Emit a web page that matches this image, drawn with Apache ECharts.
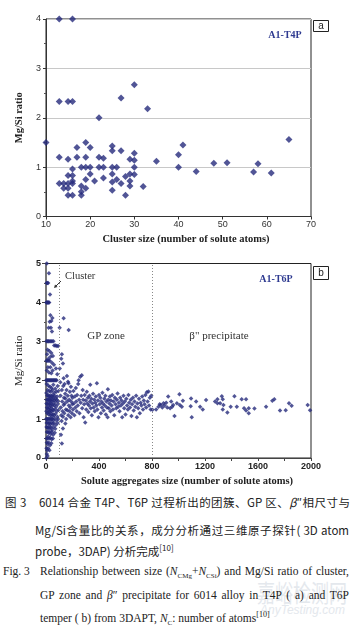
<!DOCTYPE html>
<html>
<head>
<meta charset="utf-8">
<script src="https://cdn.jsdelivr.net/npm/echarts@6/dist/echarts.min.js"></script>
<style>
  body { margin: 0; background: #fff; }
  #wrap { position: relative; width: 352px; height: 630px; overflow: hidden; background: #fff; }
  #chart { position: absolute; left: 0; top: 0; width: 352px; height: 492px; }
  .cap { position: absolute; white-space: nowrap; color: #222; line-height: 14px; }
  .cn { font-family: "Noto Sans CJK SC", sans-serif; font-size: 11.5px; }
  .en { font-family: "Liberation Serif", "Times New Roman", serif; font-size: 11.5px; }
  .just { text-align: justify; text-align-last: justify; }
  .wm { position: absolute; color: #e4e8ed; font-family: "Noto Sans CJK SC", sans-serif; }
</style>
</head>
<body>
<div id="wrap">
  <div class="wm" style="left:257px; top:574px; font-size:18px; letter-spacing:0px; transform:scaleY(1.35); transform-origin:0 0;">嘉峪检测网</div>
  <div class="wm" style="left:260px; top:603px; font-size:12px; font-style:italic; font-family:'Liberation Sans',sans-serif;">AnyTesting.com</div>

  <div id="chart"></div>

  <div class="cap cn just" style="left:5px; top:495px; width:345px;">图 3　6014 合金 T4P、T6P 过程析出的团簇、GP 区、<i>β</i>″相尺寸与</div>
  <div class="cap cn just" style="left:35px; top:523px; width:314px;">Mg/Si含量比的关系，成分分析通过三维原子探针( 3D atom</div>
  <div class="cap cn" style="left:35px; top:541px;">probe，3DAP) 分析完成<sup style="font-size:8px;">[10]</sup></div>

  <div class="cap en" style="left:3px; top:564px;">Fig. 3</div>
  <div class="cap en just" style="left:40px; top:564px; width:309px;">Relationship between size (<i>N</i><sub style="font-size:7px;">CMg</sub>+<i>N</i><sub style="font-size:7px;">CSi</sub>) and Mg/Si ratio of cluster,</div>
  <div class="cap en just" style="left:40px; top:588px; width:309px;">GP zone and <i>β</i>″ precipitate for 6014 alloy in T4P ( a) and T6P</div>
  <div class="cap en" style="left:40px; top:608px;">temper ( b) from 3DAPT, <i>N</i><sub style="font-size:7px;">C</sub>: number of atoms<sup style="font-size:8px;">[10]</sup></div>
</div>

<script>
// (a) A1-T4P : cluster size vs Mg/Si ratio
const t4pPoints = [
  [10, 1.5], [13, 4], [16, 4], [13, 2.33], [15, 2.33], [16, 2.33], [22, 2.0], [27, 2.4], [30, 2.67], [33, 2.18],
  [13, 1.2], [13, 0.67], [14, 0.67], [14, 0.57], [15, 1.16], [15, 0.83], [15, 0.67], [15, 0.57], [15, 0.43],
  [16, 0.96], [16, 0.83], [16, 0.72], [16, 0.67], [16, 0.43], [17, 1.4], [17, 1.2], [18, 1.0], [18, 0.62],
  [18, 0.5], [18, 0.43], [19, 1.5], [19, 1.2], [19, 1.0], [19, 0.75], [19, 0.57], [20, 1.4], [20, 1.0],
  [20, 0.86], [21, 0.72], [22, 1.2], [22, 1.0], [23, 1.18], [23, 1.0], [23, 0.78], [25, 1.43], [25, 1.33],
  [25, 1.0], [25, 0.86], [25, 0.7], [25, 0.53], [26, 1.0], [26, 0.75], [27, 1.33], [27, 0.67], [28, 0.81],
  [28, 0.43], [29, 1.16], [29, 0.86], [29, 0.72], [29, 0.62], [30, 1.28], [30, 1.14], [30, 1.0], [30, 0.85],
  [32, 0.61], [35, 1.12], [40, 1.25], [40, 1.0], [41, 1.45], [44, 0.91], [48, 1.08], [51, 1.09], [57, 0.9],
  [58, 1.07], [61, 0.88], [65, 1.56]
];

// (b) A1-T6P : solute aggregate size vs Mg/Si ratio
const t6pCluster = [
  [6, 5.0], [22, 4.75], [5, 4.5], [10, 4.5], [16, 4.5], [30, 4.2],
  [3, 4], [7, 4], [11, 4], [15, 4], [19, 4], [24, 4],
  [33, 3.67], [40, 3.52], [48, 3.6], [37, 3.35], [20, 3.35], [45, 3.25], [28, 3.5],
  [4, 3], [10, 3], [16, 3], [22, 3], [30, 3], [38, 3], [46, 3], [56, 3],
  [62, 2.89], [72, 2.89], [82, 2.88], [92, 2.88],
  [12, 2.78], [25, 2.75], [40, 2.7], [8, 2.67], [34, 2.6], [18, 2.55], [52, 2.62],
  [4, 2.5], [10, 2.5], [20, 2.5], [28, 2.5], [45, 2.45], [60, 2.4], [14, 2.33], [33, 2.33], [75, 2.3],
  [50, 2.25], [6, 2.25], [22, 2.2], [40, 2.18], [85, 2.15],
  [2, 2], [8, 2], [14, 2], [20, 2], [26, 2], [32, 2], [38, 2], [44, 2], [50, 2], [56, 2], [62, 2], [68, 2], [74, 2], [80, 2],
  [5, 1.9], [18, 1.86], [30, 1.83], [42, 1.8], [55, 1.88], [70, 1.78], [88, 1.85], [12, 1.75], [24, 1.72],
  [36, 1.7], [48, 1.75], [62, 1.68], [78, 1.7], [95, 1.72],
  [3, 1.67], [9, 1.6], [15, 1.62], [21, 1.58], [27, 1.6], [33, 1.55], [39, 1.6], [46, 1.57], [52, 1.62],
  [58, 1.55], [66, 1.6], [74, 1.52], [84, 1.58],
  [6, 1.5], [12, 1.5], [18, 1.5], [24, 1.5], [30, 1.47], [36, 1.5], [44, 1.45], [50, 1.5], [60, 1.48],
  [70, 1.44], [80, 1.5], [92, 1.46],
  [4, 1.4], [10, 1.38], [16, 1.42], [22, 1.36], [28, 1.4], [34, 1.35], [40, 1.4], [47, 1.33], [54, 1.38],
  [64, 1.36], [76, 1.32], [88, 1.38],
  [7, 1.3], [13, 1.28], [19, 1.25], [25, 1.3], [31, 1.22], [37, 1.27], [43, 1.2], [50, 1.25], [57, 1.22],
  [68, 1.26], [82, 1.2], [96, 1.24],
  [3, 1.2], [9, 1.15], [15, 1.17], [21, 1.12], [27, 1.18], [33, 1.1], [40, 1.14], [46, 1.08], [53, 1.12],
  [62, 1.1], [72, 1.14], [86, 1.06],
  [2, 1], [6, 1], [11, 1], [17, 1], [23, 1], [29, 1], [35, 1], [41, 1], [48, 1], [55, 0.98], [64, 1.02],
  [78, 0.97], [92, 1],
  [5, 0.9], [12, 0.92], [19, 0.88], [26, 0.9], [33, 0.86], [40, 0.92], [50, 0.88], [60, 0.9], [74, 0.85], [88, 0.9],
  [4, 0.8], [10, 0.78], [16, 0.8], [22, 0.75], [30, 0.8], [38, 0.77], [46, 0.72], [56, 0.8], [70, 0.75],
  [7, 0.67], [14, 0.67], [20, 0.65], [28, 0.67], [36, 0.62], [44, 0.67], [54, 0.6], [66, 0.65],
  [5, 0.5], [10, 0.5], [16, 0.55], [24, 0.5], [32, 0.52], [42, 0.48], [52, 0.5],
  [6, 0.4], [12, 0.36], [20, 0.4], [30, 0.33], [40, 0.38],
  [4, 0.25], [9, 0.2], [16, 0.25], [26, 0.2], [6, 0.1], [12, 0.05], [3, 0.0]
];

const t6pGpZone = [
  [103, 3.35], [133, 3.59], [171, 3.29], [120, 2.67], [115, 2.55], [128, 2.43], [120, 0.37],
  [104, 2.3], [108, 1.95], [110, 1.6], [112, 1.3], [115, 1.1], [118, 0.95], [113, 0.6], [120, 1.75],
  [122, 1.45], [125, 1.2], [128, 1.06], [128, 0.76], [130, 1.85], [133, 2.05], [133, 1.36], [136, 1.55],
  [138, 1.15], [140, 1.9], [142, 1.4], [145, 1.65], [146, 0.89], [146, 1.53], [150, 1.25], [152, 1.0],
  [155, 1.75], [158, 2.11], [160, 1.45], [161, 1.23], [164, 1.6], [166, 1.96], [168, 1.1], [170, 1.92],
  [172, 1.35], [175, 1.5], [178, 1.2], [180, 1.7], [183, 1.3], [186, 1.05], [188, 1.83], [190, 1.45],
  [193, 1.6], [196, 1.15], [198, 1.38], [200, 1.55],
  [204, 1.25], [207, 1.72], [210, 1.4], [214, 1.1], [218, 1.58], [222, 1.3], [225, 1.8], [228, 1.45],
  [232, 1.2], [235, 1.62], [240, 1.35], [243, 1.9], [246, 2.0], [250, 1.5], [253, 1.15], [258, 2.09],
  [262, 1.42], [266, 1.6], [270, 2.13], [273, 1.28], [277, 1.75], [280, 1.5], [284, 1.05], [288, 1.38],
  [292, 1.62], [296, 0.91], [300, 1.48], [304, 1.25], [308, 1.7], [312, 1.4], [316, 1.55], [320, 1.18],
  [324, 1.35], [328, 1.6], [332, 1.45], [334, 1.88], [338, 1.28], [342, 1.52], [346, 1.1], [350, 1.4],
  [355, 1.65], [360, 1.3], [364, 1.5], [368, 1.2], [372, 1.42], [376, 1.58], [380, 1.35], [384, 1.92],
  [388, 1.25], [392, 1.48], [396, 1.05], [400, 1.62], [405, 1.38], [410, 1.55], [414, 1.15], [418, 1.45],
  [422, 1.3], [426, 1.68], [430, 1.4], [435, 1.22], [440, 1.52], [444, 1.35], [448, 1.6], [452, 1.12],
  [456, 1.45], [460, 1.3], [465, 1.05], [467, 1.77], [470, 1.5], [474, 1.28], [478, 1.4], [482, 1.58],
  [486, 1.2], [490, 1.48], [495, 1.35], [500, 1.62], [505, 1.25], [510, 1.45], [515, 1.1], [520, 1.55],
  [525, 1.38], [530, 1.28], [535, 1.5], [540, 1.66], [545, 1.32], [550, 1.42],
  [555, 1.2], [560, 1.55], [565, 1.35], [570, 1.48], [575, 1.05], [580, 1.4], [585, 1.6], [590, 1.28],
  [595, 1.45], [600, 1.12], [606, 1.52], [612, 1.35], [618, 1.25], [622, 1.62], [628, 1.42], [634, 1.3],
  [640, 1.5], [645, 1.08], [650, 1.38], [656, 1.55], [662, 1.22], [668, 1.45], [674, 1.32], [680, 1.6],
  [686, 1.05], [690, 1.4], [696, 1.28], [702, 1.52], [708, 1.15], [714, 1.42], [720, 1.35], [726, 1.58],
  [732, 1.25], [738, 1.48], [744, 1.38], [750, 1.62], [756, 1.3], [761, 1.69], [767, 1.45], [773, 1.71],
  [778, 1.35], [784, 1.55], [790, 1.25], [795, 1.6]
];

const t6pBeta = [
  [804, 1.24], [831, 1.25], [849, 1.32], [858, 1.38], [867, 1.36], [878, 1.3], [887, 1.41], [895, 1.35],
  [907, 1.42], [915, 1.3], [922, 1.58], [937, 1.28], [945, 1.45], [952, 1.32], [960, 1.36], [970, 1.08],
  [988, 1.41], [1007, 1.64], [1010, 1.36], [1025, 1.32], [1033, 1.47], [1092, 1.33], [1095, 1.53],
  [1100, 1.05], [1133, 1.45], [1163, 1.32], [1183, 1.25], [1208, 1.49], [1276, 1.45], [1294, 1.51],
  [1294, 1.41], [1314, 1.41], [1327, 1.59], [1334, 1.51], [1334, 1.25], [1339, 1.36], [1369, 1.17],
  [1394, 1.32], [1422, 1.59], [1440, 1.32], [1477, 1.51], [1495, 1.28], [1510, 1.51], [1510, 1.22],
  [1530, 1.28], [1530, 1.15], [1573, 1.27], [1661, 1.32], [1708, 1.47], [1723, 1.51], [1766, 1.22],
  [1809, 1.23], [1834, 1.41], [1854, 1.34], [1975, 1.36], [1993, 1.23]
];

// region boundaries in (b)
const regionBounds = [100, 800];

const chart = echarts.init(document.getElementById('chart'));
const navy = '#262a7c';
const sans = 'Liberation Sans';

const option = {
  animation: false,
  grid: [
    { left: 46, top: 19, width: 265, height: 197.5, show: true, borderColor: '#222', borderWidth: 1 },
    { left: 46, top: 263.5, width: 265, height: 194.5, show: true, borderColor: '#222', borderWidth: 1 }
  ],
  xAxis: [
    {
      gridIndex: 0, type: 'value', min: 10, max: 70, interval: 10,
      axisLine: { lineStyle: { color: '#333' } },
      axisTick: { show: true, inside: false, length: 3, lineStyle: { color: '#333' } },
      axisLabel: { color: '#333', fontFamily: sans, fontSize: 9, margin: 4 },
      splitLine: { show: false }
    },
    {
      gridIndex: 1, type: 'value', min: 0, max: 2000, interval: 200,
      axisLine: { lineStyle: { color: '#444' } },
      axisTick: { show: true, length: 3, lineStyle: { color: '#444' } },
      axisLabel: {
        color: '#222', fontFamily: sans, fontWeight: 'bold', fontSize: 9, margin: 4,
        formatter: v => (v % 400 === 0 ? String(v) : '')
      },
      splitLine: { show: false }
    }
  ],
  yAxis: [
    {
      gridIndex: 0, type: 'value', min: 0, max: 4, interval: 1,
      name: 'Mg/Si ratio', nameLocation: 'middle', nameRotate: 90, nameGap: 20,
      nameTextStyle: { fontFamily: 'Liberation Serif', fontWeight: 'bold', fontSize: 10.5, color: '#222' },
      axisLine: { show: true, lineStyle: { color: '#333' } },
      axisTick: { show: true, length: 3, lineStyle: { color: '#333' } },
      minorTick: { show: true, splitNumber: 2, length: 2, lineStyle: { color: '#555' } },
      axisLabel: { color: '#333', fontFamily: sans, fontSize: 9, margin: 5 },
      splitLine: { show: true, lineStyle: { color: '#c8c8c8', width: 1 } }
    },
    {
      gridIndex: 1, type: 'value', min: 0, max: 5, interval: 1,
      name: 'Mg/Si ratio', nameLocation: 'middle', nameRotate: 90, nameGap: 20,
      nameTextStyle: { fontFamily: 'Liberation Serif', fontSize: 11, color: '#222' },
      axisLine: { show: true, lineStyle: { color: '#777', width: 2 } },
      axisTick: { show: true, length: 4, lineStyle: { color: '#444' } },
      minorTick: { show: true, splitNumber: 2, length: 2, lineStyle: { color: '#555' } },
      axisLabel: { color: '#222', fontFamily: sans, fontWeight: 'bold', fontSize: 9, margin: 5 },
      splitLine: { show: false }
    }
  ],
  series: [
    {
      type: 'scatter', xAxisIndex: 0, yAxisIndex: 0, data: t4pPoints,
      symbol: 'diamond', symbolSize: 7, clip: false,
      itemStyle: { color: navy }
    },
    {
      type: 'scatter', xAxisIndex: 1, yAxisIndex: 1, data: t6pCluster,
      symbol: 'diamond', symbolSize: 4.5, clip: false,
      itemStyle: { color: navy }
    },
    {
      type: 'scatter', xAxisIndex: 1, yAxisIndex: 1, data: t6pGpZone,
      symbol: 'diamond', symbolSize: 4.5,
      itemStyle: { color: navy },
      markLine: {
        silent: true, symbol: 'none', label: { show: false },
        lineStyle: { color: '#888', type: [1, 2], width: 1 },
        data: regionBounds.map(v => ({ xAxis: v }))
      }
    },
    {
      type: 'scatter', xAxisIndex: 1, yAxisIndex: 1, data: t6pBeta,
      symbol: 'diamond', symbolSize: 4.5,
      itemStyle: { color: navy }
    }
  ],
  graphic: [
    // chart (a) texts
    { type: 'text', x: 186, y: 239, style: { text: 'Cluster size (number of solute atoms)',
      font: 'bold 10.5px "Liberation Serif"', fill: '#222', align: 'center', verticalAlign: 'middle' } },
    { type: 'text', x: 285, y: 35, style: { text: 'A1-T4P',
      font: 'bold 10px "Liberation Serif"', fill: '#2e3a90', align: 'center', verticalAlign: 'middle' } },
    { type: 'rect', shape: { x: 313.5, y: 20.5, width: 15, height: 11 }, style: { fill: '#fff', stroke: '#222', lineWidth: 1 } },
    { type: 'text', x: 321, y: 26.5, style: { text: 'a', font: '10px "Liberation Sans"', fill: '#222', align: 'center', verticalAlign: 'middle' } },

    // chart (b) texts
    { type: 'text', x: 187, y: 481, style: { text: 'Solute aggregates size (number of solute atoms)',
      font: 'bold 10.5px "Liberation Serif"', fill: '#222', align: 'center', verticalAlign: 'middle' } },
    { type: 'text', x: 276, y: 279, style: { text: 'A1-T6P',
      font: 'bold 10px "Liberation Serif"', fill: '#2e3a90', align: 'center', verticalAlign: 'middle' } },
    { type: 'rect', shape: { x: 313.5, y: 266.5, width: 15, height: 13 }, style: { fill: '#fff', stroke: '#222', lineWidth: 1 } },
    { type: 'text', x: 321, y: 273, style: { text: 'b', font: '10px "Liberation Sans"', fill: '#222', align: 'center', verticalAlign: 'middle' } },
    { type: 'text', x: 65, y: 276, style: { text: 'Cluster', font: '10.5px "Liberation Serif"', fill: '#333', verticalAlign: 'middle' } },
    { type: 'line', shape: { x1: 61, y1: 281, x2: 55, y2: 287 }, style: { stroke: '#333', lineWidth: 1 } },
    { type: 'polygon', shape: { points: [[54, 288], [55, 284.5], [57.5, 287]] }, style: { fill: '#333' } },
    { type: 'text', x: 106, y: 336, style: { text: 'GP zone', font: '11px "Liberation Serif"', fill: '#333', align: 'center', verticalAlign: 'middle' } },
    { type: 'text', x: 219, y: 336, style: { text: 'β" precipitate', font: '11px "Liberation Serif"', fill: '#333', align: 'center', verticalAlign: 'middle' } }
  ]
};

chart.setOption(option);
</script>
</body>
</html>
